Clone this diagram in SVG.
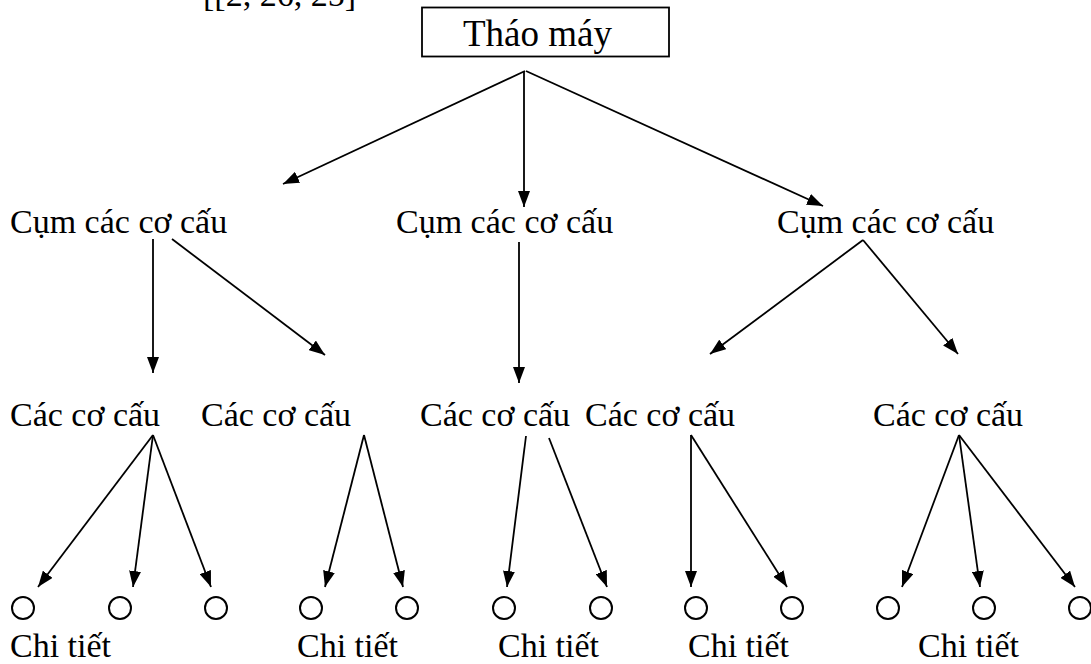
<svg xmlns="http://www.w3.org/2000/svg" width="1091" height="664" viewBox="0 0 1091 664">
<style>
text{font-family:"Liberation Serif","Times New Roman",serif;fill:#000;font-size:34px}
.t{font-size:37px}
.c line{stroke:#000;stroke-width:1.8;marker-end:url(#ah)}
circle{fill:none;stroke:#000;stroke-width:2}
</style>
<defs>
<marker id="ah" markerUnits="userSpaceOnUse" markerWidth="16" markerHeight="12" refX="16" refY="6" orient="auto" viewBox="0 0 16 12">
<path d="M0,0 L16,6 L0,12 z" fill="#000"/>
</marker>
</defs>
<rect width="1091" height="664" fill="#fff"/>
<text x="203" y="6">[[2, 26, 25]</text>
<g id="root">
<rect x="422" y="7.5" width="247" height="49" fill="#fff" stroke="#000" stroke-width="1.8"/>
<text class="t" x="463" y="46">Tháo máy</text>
</g>
<g id="cum1"><text x="10" y="233">Cụm các cơ cấu</text></g>
<g id="cum2"><text x="396" y="233">Cụm các cơ cấu</text></g>
<g id="cum3"><text x="777" y="233">Cụm các cơ cấu</text></g>
<g id="cc1"><text x="10" y="426">Các cơ cấu</text></g>
<g id="cc2"><text x="201" y="426">Các cơ cấu</text></g>
<g id="cc3"><text x="420" y="426">Các cơ cấu</text></g>
<g id="cc4"><text x="585" y="426">Các cơ cấu</text></g>
<g id="cc5"><text x="873" y="426">Các cơ cấu</text></g>
<g id="parts">
<circle cx="23" cy="608" r="11"/>
<circle cx="120" cy="608" r="11"/>
<circle cx="216" cy="608" r="11"/>
<circle cx="311" cy="608" r="11"/>
<circle cx="407" cy="608" r="11"/>
<circle cx="504" cy="608" r="11"/>
<circle cx="601" cy="608" r="11"/>
<circle cx="696" cy="608" r="11"/>
<circle cx="792" cy="608" r="11"/>
<circle cx="888" cy="608" r="11"/>
<circle cx="984" cy="608" r="11"/>
<circle cx="1080" cy="608" r="11"/>
</g>
<g id="ct1"><text x="10" y="657">Chi tiết</text></g>
<g id="ct2"><text x="297" y="657">Chi tiết</text></g>
<g id="ct3"><text x="498" y="657">Chi tiết</text></g>
<g id="ct4"><text x="688" y="657">Chi tiết</text></g>
<g id="ct5"><text x="918" y="657">Chi tiết</text></g>
<g class="c" id="connectors">
<line x1="525" y1="71" x2="283" y2="184"/>
<line x1="524" y1="71" x2="524" y2="207"/>
<line x1="526" y1="71" x2="823" y2="206"/>
<line x1="153" y1="239" x2="153" y2="373"/>
<line x1="172" y1="239" x2="325" y2="355"/>
<line x1="519" y1="242" x2="519" y2="383"/>
<line x1="863" y1="240" x2="710" y2="354"/>
<line x1="863" y1="240" x2="958" y2="354"/>
<line x1="153" y1="435" x2="38" y2="587"/>
<line x1="153" y1="435" x2="133" y2="587"/>
<line x1="153" y1="435" x2="211" y2="587"/>
<line x1="364" y1="435" x2="325" y2="587"/>
<line x1="364" y1="435" x2="403" y2="587"/>
<line x1="526" y1="436" x2="507" y2="587"/>
<line x1="549" y1="438" x2="607" y2="587"/>
<line x1="691" y1="435" x2="691" y2="587"/>
<line x1="691" y1="435" x2="787" y2="587"/>
<line x1="959" y1="435" x2="902" y2="587"/>
<line x1="959" y1="435" x2="980" y2="587"/>
<line x1="959" y1="435" x2="1075" y2="587"/>
</g>
</svg>
